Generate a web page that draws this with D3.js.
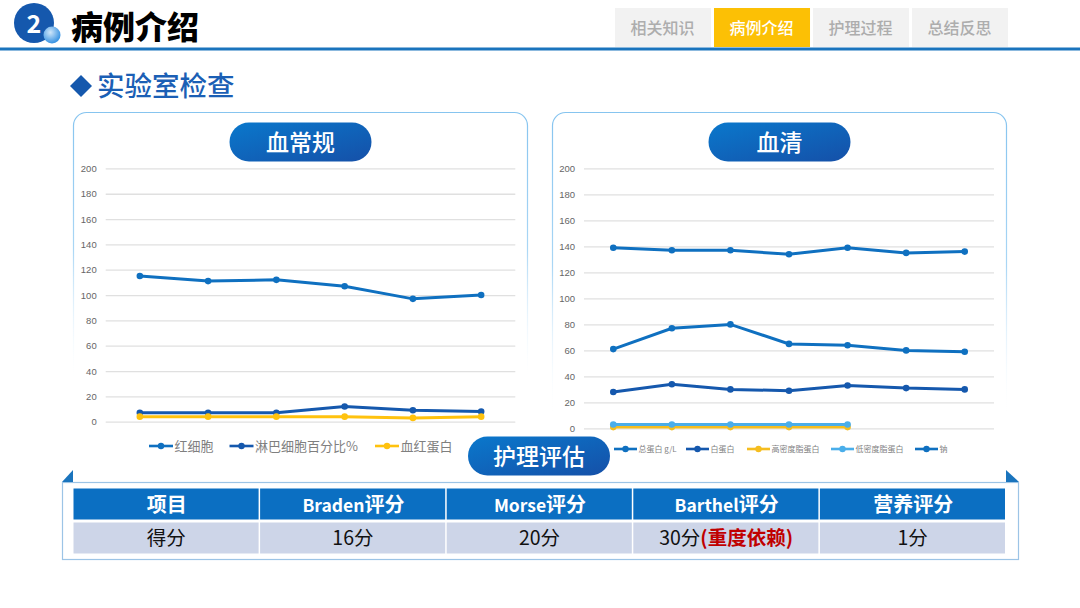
<!DOCTYPE html>
<html>
<head>
<meta charset="utf-8">
<script src="https://cdn.jsdelivr.net/npm/d3@7"></script>
<style>
  html, body { margin: 0; padding: 0; background: #fff; }
  svg { display: block; }
  text { font-family: "Noto Sans CJK SC", "Noto Sans", sans-serif; }
  .tick text { font-family: "Liberation Sans", sans-serif; }
</style>
</head>
<body>
<svg id="chart" width="1080" height="608"></svg>
<script>
var navLabels = ["相关知识", "病例介绍", "护理过程", "总结反思"];
var yTicks = [0, 20, 40, 60, 80, 100, 120, 140, 160, 180, 200];

// 血常规
var bloodVisits = [1, 2, 3, 4, 5, 6];
var redCells = [115, 111, 112, 107, 97, 100];
var lymphPct = [7, 7, 7, 12, 9, 8];
var hemoglobin = [4, 4, 4, 4, 3, 4];
var bloodNames = ["红细胞", "淋巴细胞百分比%", "血红蛋白"];

// 血清
var serumVisits = [1, 2, 3, 4, 5, 6, 7];
var totalProtein = [61, 77, 80, 65, 64, 60, 59];
var albumin = [28, 34, 30, 29, 33, 31, 30];
var hdl = [1, 1, 1, 1, 1];
var ldl = [3, 3, 3, 3, 3];
var sodium = [139, 137, 137, 134, 139, 135, 136];
var serumNames = ["总蛋白 g/L", "白蛋白", "高密度脂蛋白", "低密度脂蛋白", "钠"];

var tableHead = ["项目", "Braden评分", "Morse评分", "Barthel评分", "营养评分"];
var tableRow = ["得分", "16分", "20分", "30分", "1分"];

var svg = d3.select("#chart");
var defs = svg.append("defs");

var grad = defs.append("linearGradient").attr("id", "pill")
  .attr("x1", 0).attr("y1", 0).attr("x2", 1).attr("y2", 1);
grad.append("stop").attr("offset", "0%").attr("stop-color", "#0a78cc");
grad.append("stop").attr("offset", "100%").attr("stop-color", "#1550a8");

var ball = defs.append("radialGradient").attr("id", "ball")
  .attr("cx", "40%").attr("cy", "35%").attr("r", "70%");
ball.append("stop").attr("offset", "0%").attr("stop-color", "#cfe6fa");
ball.append("stop").attr("offset", "100%").attr("stop-color", "#2a8be0");

// card border fades out towards the bottom
function fade(id, y2) {
  var f = defs.append("linearGradient").attr("id", id).attr("gradientUnits", "userSpaceOnUse")
    .attr("x1", 0).attr("y1", 112).attr("x2", 0).attr("y2", y2);
  f.append("stop").attr("offset", "0%").attr("stop-color", "#86c4ef");
  f.append("stop").attr("offset", "50%").attr("stop-color", "#a9d6f5");
  f.append("stop").attr("offset", "100%").attr("stop-color", "#ffffff").attr("stop-opacity", 0);
}
fade("fadeL", 385);
fade("fadeR", 418);

// header
svg.append("circle").attr("cx", 34).attr("cy", 23).attr("r", 20).attr("fill", "#1558ad");
svg.append("text").attr("x", 34).attr("y", 33).attr("text-anchor", "middle")
  .attr("font-size", 25).attr("font-weight", 700).attr("fill", "#fff").text("2");
svg.append("circle").attr("cx", 52).attr("cy", 35).attr("r", 8.5).attr("fill", "url(#ball)");
svg.append("text").attr("x", 71).attr("y", 39).attr("font-size", 32).attr("font-weight", 900)
  .attr("fill", "#000").text("病例介绍");

var navX = d3.scaleBand().domain(navLabels).range([615, 1008]).paddingInner(0.03);
var nav = svg.selectAll(".nav").data(navLabels).enter().append("g").attr("class", "nav");
nav.append("rect").attr("x", d => navX(d)).attr("y", 8).attr("width", navX.bandwidth()).attr("height", 39)
  .attr("fill", (d, i) => i === 1 ? "#fcc005" : "#f2f2f2");
nav.append("text").attr("x", d => navX(d) + navX.bandwidth() / 2 - 0.5).attr("y", 34).attr("text-anchor", "middle")
  .attr("font-size", 16).attr("font-weight", 500).attr("fill", (d, i) => i === 1 ? "#fff" : "#adadad").text(d => d);
svg.append("rect").attr("x", 0).attr("y", 47.5).attr("width", 1080).attr("height", 3).attr("fill", "#1a74bd");

// section title
svg.append("path").attr("d", "M70,86L81,75L92,86L81,97Z").attr("fill", "#1558ad");
svg.append("text").attr("x", 97).attr("y", 96).attr("font-size", 27.5).attr("font-weight", 500)
  .attr("fill", "#1b5fb5").text("实验室检查");

function card(x, title, stroke) {
  svg.append("rect").attr("x", x).attr("y", 112.5).attr("width", 454).attr("height", 330).attr("rx", 13)
    .attr("fill", "#fff").attr("stroke", stroke).attr("stroke-width", 1.2);
  pill(x + 227, 142, 142, 39, title);
}

function pill(cx, cy, w, h, label) {
  svg.append("rect").attr("x", cx - w / 2).attr("y", cy - h / 2).attr("width", w).attr("height", h)
    .attr("rx", h / 2).attr("fill", "url(#pill)");
  svg.append("text").attr("x", cx).attr("y", cy + 8.5).attr("text-anchor", "middle")
    .attr("font-size", 23).attr("font-weight", 500).attr("fill", "#fff").text(label);
}

function lineChart(opts) {
  var x = d3.scalePoint().domain(opts.visits).range(opts.xRange).padding(0.5);
  var y = d3.scaleLinear().domain([0, 200]).range(opts.yRange);
  var g = svg.append("g");

  var axis = g.append("g").attr("transform", "translate(" + opts.xRange[0] + ",0)")
    .call(d3.axisLeft(y).tickValues(yTicks).tickSize(-(opts.xRange[1] - opts.xRange[0])).tickPadding(9));
  axis.select(".domain").remove();
  axis.selectAll("line").attr("stroke", "#e0e0e0").attr("stroke-width", 1.3);
  axis.selectAll("text").attr("font-size", 9.5).attr("fill", "#666");

  var line = d3.line().x((d, i) => x(opts.visits[i])).y(d => y(d));
  opts.series.forEach(function (s) {
    var sg = g.append("g");
    sg.append("path").attr("d", line(s.values)).attr("fill", "none")
      .attr("stroke", s.color).attr("stroke-width", 3);
    sg.selectAll("circle").data(s.values).enter().append("circle")
      .attr("cx", (d, i) => x(opts.visits[i])).attr("cy", d => y(d)).attr("r", 3.3)
      .attr("fill", s.color);
  });

  // legend
  var lg = g.append("g");
  opts.series.forEach(function (s, i) {
    var lx = opts.legendX[i];
    lg.append("line").attr("x1", lx).attr("x2", lx + opts.keyW).attr("y1", opts.legendY).attr("y2", opts.legendY)
      .attr("stroke", s.color).attr("stroke-width", 2.6);
    lg.append("circle").attr("cx", lx + opts.keyW / 2).attr("cy", opts.legendY).attr("r", 3.2).attr("fill", s.color);
    lg.append("text").attr("x", lx + opts.keyW + 1.5).attr("y", opts.legendY + opts.legendFont * 0.36)
      .attr("font-size", opts.legendFont).attr("fill", "#7f7f7f").text(s.name);
  });
}

card(73.5, "血常规", "url(#fadeL)");
card(552.5, "血清", "url(#fadeR)");

lineChart({
  visits: bloodVisits, xRange: [105.7, 515.3], yRange: [421.7, 168.4],
  series: [
    { name: bloodNames[0], values: redCells, color: "#0f70c0" },
    { name: bloodNames[1], values: lymphPct, color: "#1558ad" },
    { name: bloodNames[2], values: hemoglobin, color: "#ffc20e" }
  ],
  legendX: [149, 229.5, 375], legendY: 446, keyW: 24, legendFont: 13
});

lineChart({
  visits: serumVisits, xRange: [584, 994], yRange: [428.4, 168.4],
  series: [
    { name: serumNames[0], values: totalProtein, color: "#0f70c0" },
    { name: serumNames[1], values: albumin, color: "#1558ad" },
    { name: serumNames[2], values: hdl, color: "#f5bd1f" },
    { name: serumNames[3], values: ldl, color: "#4aaeea" },
    { name: serumNames[4], values: sodium, color: "#0f70c0" }
  ],
  legendX: [614, 686, 747, 831, 915], legendY: 449, keyW: 23, legendFont: 8
});

// table panel
svg.append("rect").attr("x", 62.5).attr("y", 482.5).attr("width", 956).attr("height", 77)
  .attr("fill", "#fff").attr("stroke", "#9cc4e6").attr("stroke-width", 1.2);
svg.append("path").attr("d", "M62,482L73,470L73,482Z").attr("fill", "#1a74bd");
svg.append("path").attr("d", "M1006,470L1019,482L1006,482Z").attr("fill", "#1a74bd");

pill(539, 456, 142, 39, "护理评估");

var colX = d3.scaleBand().domain(d3.range(tableHead.length)).range([73.5, 1006.5]);
var cols = svg.selectAll(".col").data(tableHead).enter().append("g").attr("class", "col");
cols.append("rect").attr("x", (d, i) => colX(i)).attr("y", 488.5).attr("width", colX.bandwidth() - 1.5).attr("height", 31)
  .attr("fill", "#0b6fc2");
cols.append("rect").attr("x", (d, i) => colX(i)).attr("y", 522.5).attr("width", colX.bandwidth() - 1.5).attr("height", 31)
  .attr("fill", "#cdd5e8");

// latin runs in the header are set smaller than the CJK ones
var heads = cols.append("text").attr("x", (d, i) => colX(i) + colX.bandwidth() / 2).attr("y", 512).attr("text-anchor", "middle")
  .attr("font-size", 20).attr("font-weight", 700).attr("fill", "#fff");
heads.selectAll("tspan").data(d => d.match(/[A-Za-z]+|[^A-Za-z]+/g)).enter().append("tspan")
  .attr("font-size", d => /[A-Za-z]/.test(d) ? 17.5 : 20).text(d => d);

var vals = cols.append("text").attr("x", (d, i) => colX(i) + colX.bandwidth() / 2 - 0.5).attr("y", 545)
  .attr("text-anchor", "middle").attr("font-size", 19.5).attr("fill", "#111").text((d, i) => tableRow[i]);
vals.filter((d, i) => i === 3).append("tspan").attr("fill", "#c00000").attr("font-weight", 700).text("(重度依赖)");
</script>
</body>
</html>
